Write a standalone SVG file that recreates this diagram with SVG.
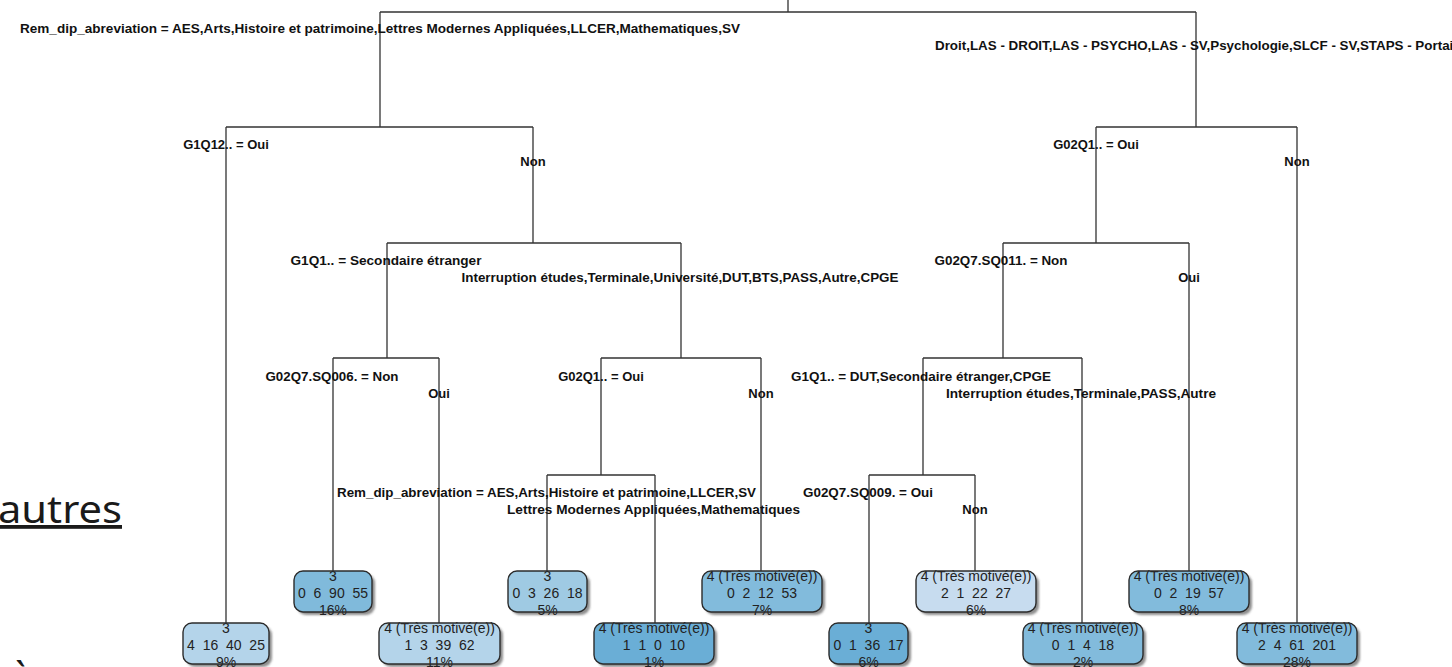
<svg xmlns="http://www.w3.org/2000/svg" width="1452" height="667" viewBox="0 0 1452 667">
<defs>
<style>
.lbl{font-family:"Liberation Sans",Arial,sans-serif;font-weight:bold;font-size:13px;fill:#111;text-anchor:middle}
.lt{font-family:"Liberation Sans",Arial,sans-serif;font-size:14px;fill:#222;text-anchor:middle}
.edge{stroke:#333;stroke-width:1.3;fill:none}
.box{stroke:none}
.bd{fill:none;stroke:#2b2b2b;stroke-width:1.4}
.big{font-family:"Noto Sans","Open Sans",sans-serif;font-size:38px;fill:#1a1a1a}
</style>
<filter id="sh" x="-10%" y="-20%" width="130%" height="160%">
<feDropShadow dx="3" dy="3" stdDeviation="1.3" flood-color="#444" flood-opacity="0.6"/>
</filter>
</defs>
<rect width="1452" height="667" fill="#fff"/>
<g id="slide-text">
<text class="big" x="-2" y="523" textLength="124" lengthAdjust="spacingAndGlyphs" text-decoration="underline">autres</text>
<text class="big" x="11" y="690">à</text>
</g>
<g id="connectors">
<path class="edge" d="M788,0V12M380,12H1196M380,12V127M1196,12V127
M226,127H533M226,127V623M533,127V243
M387,243H681M387,243V358M681,243V358
M333,358H439M333,358V571M439,358V623
M601,358H761M601,358V475M761,358V571
M547,475H655M547,475V571M655,475V623
M1096,127H1297M1297,127V623M1096,127V243
M1003,243H1189M1189,243V571M1003,243V358
M923,358H1082M1082,358V623M923,358V475
M869,475H975M869,475V623M975,475V571"/>
</g>
<g id="split-labels">
<text class="lbl" x="380" y="33" textLength="720" lengthAdjust="spacingAndGlyphs">Rem_dip_abreviation = AES,Arts,Histoire et patrimoine,Lettres Modernes Appliquées,LLCER,Mathematiques,SV</text>
<text class="lbl" x="1196" y="50" textLength="522" lengthAdjust="spacingAndGlyphs">Droit,LAS - DROIT,LAS - PSYCHO,LAS - SV,Psychologie,SLCF - SV,STAPS - Portail</text>
<text class="lbl" x="226" y="149">G1Q12.. = Oui</text>
<text class="lbl" x="533" y="166">Non</text>
<text class="lbl" x="1096" y="149">G02Q1.. = Oui</text>
<text class="lbl" x="1297" y="166">Non</text>
<text class="lbl" x="386" y="265" textLength="191" lengthAdjust="spacingAndGlyphs">G1Q1.. = Secondaire étranger</text>
<text class="lbl" x="680" y="282" textLength="437" lengthAdjust="spacingAndGlyphs">Interruption études,Terminale,Université,DUT,BTS,PASS,Autre,CPGE</text>
<text class="lbl" x="1001" y="265" textLength="133" lengthAdjust="spacingAndGlyphs">G02Q7.SQ011. = Non</text>
<text class="lbl" x="1189" y="282">Oui</text>
<text class="lbl" x="332" y="381" textLength="133" lengthAdjust="spacingAndGlyphs">G02Q7.SQ006. = Non</text>
<text class="lbl" x="439" y="398">Oui</text>
<text class="lbl" x="601" y="381">G02Q1.. = Oui</text>
<text class="lbl" x="761" y="398">Non</text>
<text class="lbl" x="921" y="381" textLength="260" lengthAdjust="spacingAndGlyphs">G1Q1.. = DUT,Secondaire étranger,CPGE</text>
<text class="lbl" x="1081" y="398" textLength="270" lengthAdjust="spacingAndGlyphs">Interruption études,Terminale,PASS,Autre</text>
<text class="lbl" x="546.5" y="497" textLength="419" lengthAdjust="spacingAndGlyphs">Rem_dip_abreviation = AES,Arts,Histoire et patrimoine,LLCER,SV</text>
<text class="lbl" x="653.5" y="514" textLength="293" lengthAdjust="spacingAndGlyphs">Lettres Modernes Appliquées,Mathematiques</text>
<text class="lbl" x="868" y="497" textLength="130" lengthAdjust="spacingAndGlyphs">G02Q7.SQ009. = Oui</text>
<text class="lbl" x="975" y="514">Non</text>
</g>
<g id="leaf-A">
<rect class="box" x="183" y="623" width="86" height="41" rx="9" fill="#b4d4ea" filter="url(#sh)"/>
<text class="lt" xml:space="preserve" x="226" y="633">3</text>
<text class="lt" xml:space="preserve" x="226" y="650">4  16  40  25</text>
<text class="lt" xml:space="preserve" x="226" y="667">9%</text>
<rect class="bd" x="183" y="623" width="86" height="41" rx="9"/>
</g>
<g id="leaf-B">
<rect class="box" x="294" y="571" width="78" height="41" rx="9" fill="#80badb" filter="url(#sh)"/>
<text class="lt" xml:space="preserve" x="333" y="581">3</text>
<text class="lt" xml:space="preserve" x="333" y="598">0  6  90  55</text>
<text class="lt" xml:space="preserve" x="333" y="615">16%</text>
<rect class="bd" x="294" y="571" width="78" height="41" rx="9"/>
</g>
<g id="leaf-C">
<rect class="box" x="379" y="623" width="121" height="41" rx="9" fill="#b4d4ea" filter="url(#sh)"/>
<text class="lt" xml:space="preserve" x="439.5" y="633">4 (Très motivé(e))</text>
<text class="lt" xml:space="preserve" x="439.5" y="650">1  3  39  62</text>
<text class="lt" xml:space="preserve" x="439.5" y="667">11%</text>
<rect class="bd" x="379" y="623" width="121" height="41" rx="9"/>
</g>
<g id="leaf-D">
<rect class="box" x="508" y="571" width="79" height="41" rx="9" fill="#9fcae3" filter="url(#sh)"/>
<text class="lt" xml:space="preserve" x="547.5" y="581">3</text>
<text class="lt" xml:space="preserve" x="547.5" y="598">0  3  26  18</text>
<text class="lt" xml:space="preserve" x="547.5" y="615">5%</text>
<rect class="bd" x="508" y="571" width="79" height="41" rx="9"/>
</g>
<g id="leaf-E">
<rect class="box" x="594" y="623" width="120" height="41" rx="9" fill="#6aaed6" filter="url(#sh)"/>
<text class="lt" xml:space="preserve" x="654" y="633">4 (Très motivé(e))</text>
<text class="lt" xml:space="preserve" x="654" y="650">1  1  0  10</text>
<text class="lt" xml:space="preserve" x="654" y="667">1%</text>
<rect class="bd" x="594" y="623" width="120" height="41" rx="9"/>
</g>
<g id="leaf-F">
<rect class="box" x="702" y="571" width="120" height="41" rx="9" fill="#82bbdc" filter="url(#sh)"/>
<text class="lt" xml:space="preserve" x="762" y="581">4 (Très motivé(e))</text>
<text class="lt" xml:space="preserve" x="762" y="598">0  2  12  53</text>
<text class="lt" xml:space="preserve" x="762" y="615">7%</text>
<rect class="bd" x="702" y="571" width="120" height="41" rx="9"/>
</g>
<g id="leaf-G">
<rect class="box" x="829" y="623" width="79" height="41" rx="9" fill="#6aaed6" filter="url(#sh)"/>
<text class="lt" xml:space="preserve" x="868.5" y="633">3</text>
<text class="lt" xml:space="preserve" x="868.5" y="650">0  1  36  17</text>
<text class="lt" xml:space="preserve" x="868.5" y="667">6%</text>
<rect class="bd" x="829" y="623" width="79" height="41" rx="9"/>
</g>
<g id="leaf-H">
<rect class="box" x="916" y="571" width="120" height="41" rx="9" fill="#c7dcef" filter="url(#sh)"/>
<text class="lt" xml:space="preserve" x="976" y="581">4 (Très motivé(e))</text>
<text class="lt" xml:space="preserve" x="976" y="598">2  1  22  27</text>
<text class="lt" xml:space="preserve" x="976" y="615">6%</text>
<rect class="bd" x="916" y="571" width="120" height="41" rx="9"/>
</g>
<g id="leaf-I">
<rect class="box" x="1023" y="623" width="120" height="41" rx="9" fill="#82bbdc" filter="url(#sh)"/>
<text class="lt" xml:space="preserve" x="1083" y="633">4 (Très motivé(e))</text>
<text class="lt" xml:space="preserve" x="1083" y="650">0  1  4  18</text>
<text class="lt" xml:space="preserve" x="1083" y="667">2%</text>
<rect class="bd" x="1023" y="623" width="120" height="41" rx="9"/>
</g>
<g id="leaf-J">
<rect class="box" x="1129" y="571" width="120" height="41" rx="9" fill="#82bbdc" filter="url(#sh)"/>
<text class="lt" xml:space="preserve" x="1189" y="581">4 (Très motivé(e))</text>
<text class="lt" xml:space="preserve" x="1189" y="598">0  2  19  57</text>
<text class="lt" xml:space="preserve" x="1189" y="615">8%</text>
<rect class="bd" x="1129" y="571" width="120" height="41" rx="9"/>
</g>
<g id="leaf-K">
<rect class="box" x="1237" y="623" width="120" height="41" rx="9" fill="#82bbdc" filter="url(#sh)"/>
<text class="lt" xml:space="preserve" x="1297" y="633">4 (Très motivé(e))</text>
<text class="lt" xml:space="preserve" x="1297" y="650">2  4  61  201</text>
<text class="lt" xml:space="preserve" x="1297" y="667">28%</text>
<rect class="bd" x="1237" y="623" width="120" height="41" rx="9"/>
</g>
</svg>
